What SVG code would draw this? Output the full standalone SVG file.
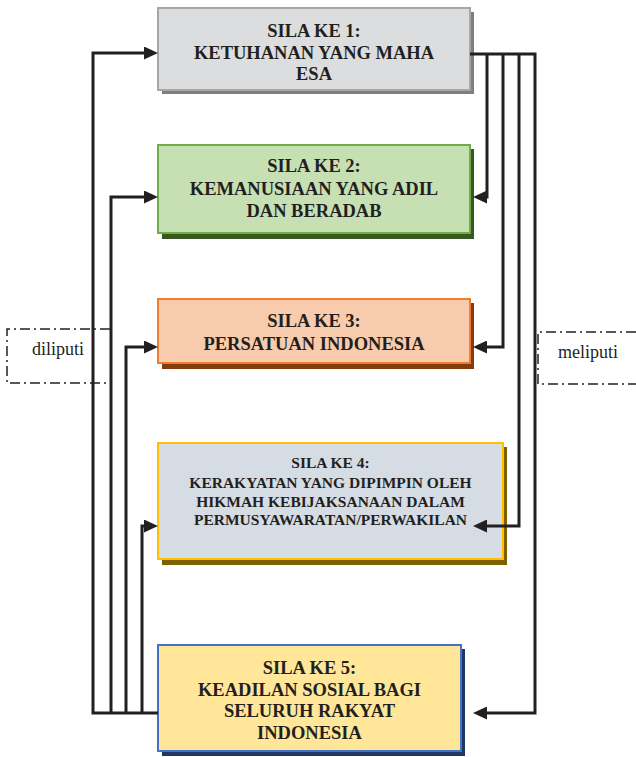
<svg xmlns="http://www.w3.org/2000/svg" width="636" height="757" viewBox="0 0 636 757">
<style>
.t{font-family:"Liberation Serif","Times New Roman",serif;font-weight:bold;font-size:18.5px;fill:#231f20;text-anchor:middle}
.t4{font-size:15.5px}
.lbl{font-family:"Liberation Serif","Times New Roman",serif;font-size:18px;fill:#231f20;text-anchor:middle}
.c{fill:none;stroke:#231f20;stroke-width:3;stroke-linejoin:miter}
.d{fill:none;stroke:#231f20;stroke-width:1.5;stroke-dasharray:10 4 2 4}
</style>
<defs>
<marker id="ah" markerWidth="14" markerHeight="13" refX="2" refY="6.5" orient="auto" markerUnits="userSpaceOnUse">
<path d="M0,0 L14,6.5 L0,13 z" fill="#231f20"/>
</marker>
</defs>
<g id="dash-left">
<path class="d" d="M110,329 H7 V383 H110"/>
<text class="lbl" x="58" y="355">diliputi</text>
</g>
<g id="dash-right">
<path class="d" d="M636,332 H538 V384 H636"/>
<text class="lbl" x="588" y="358">meliputi</text>
</g>
<g id="sila1">
<rect x="162" y="12" width="312" height="82" fill="#7f7f7f"/>
<rect x="158" y="8" width="312" height="82" fill="#dcdddf" stroke="#a6a6a6" stroke-width="2"/>
<text class="t" x="314" y="37">SILA KE 1:</text>
<text class="t" x="314" y="59">KETUHANAN YANG MAHA</text>
<text class="t" x="314" y="80">ESA</text>
</g>
<g id="sila2">
<rect x="162" y="149" width="312" height="90" fill="#385723"/>
<rect x="158" y="145" width="312" height="88" fill="#c6e0b4" stroke="#70ad47" stroke-width="2"/>
<text class="t" x="314" y="172">SILA KE 2:</text>
<text class="t" x="314" y="195">KEMANUSIAAN YANG ADIL</text>
<text class="t" x="314" y="217">DAN BERADAB</text>
</g>
<g id="sila3">
<rect x="162" y="303" width="312" height="66" fill="#843c0c"/>
<rect x="158" y="299" width="312" height="64" fill="#f8cbad" stroke="#ed7d31" stroke-width="2"/>
<text class="t" x="314" y="327">SILA KE 3:</text>
<text class="t" x="314" y="350">PERSATUAN INDONESIA</text>
</g>
<g id="sila4">
<rect x="162" y="447" width="345" height="118" fill="#7f6000"/>
<rect x="158" y="443" width="345" height="116" fill="#d6dce4" stroke="#ffc000" stroke-width="2"/>
<text class="t t4" x="330.5" y="468">SILA KE 4:</text>
<text class="t t4" x="330.5" y="488">KERAKYATAN YANG DIPIMPIN OLEH</text>
<text class="t t4" x="330.5" y="507">HIKMAH KEBIJAKSANAAN DALAM</text>
<text class="t t4" x="330.5" y="525">PERMUSYAWARATAN/PERWAKILAN</text>
</g>
<g id="sila5">
<rect x="162" y="649" width="303" height="107" fill="#1f3864"/>
<rect x="158" y="645" width="303" height="106" fill="#ffe699" stroke="#4472c4" stroke-width="2"/>
<text class="t" x="309.5" y="674">SILA KE 5:</text>
<text class="t" x="309.5" y="696">KEADILAN SOSIAL BAGI</text>
<text class="t" x="309.5" y="717">SELURUH RAKYAT</text>
<text class="t" x="309.5" y="739">INDONESIA</text>
</g>
<g id="connectors">
<path class="c" d="M158,713 H93 V53 H146" marker-end="url(#ah)"/>
<path class="c" d="M111,713 V197 H146" marker-end="url(#ah)"/>
<path class="c" d="M126,713 V347 H146" marker-end="url(#ah)"/>
<path class="c" d="M142,713 V526 H146" marker-end="url(#ah)"/>
<path class="c" d="M470,54 H535 V713 H485" marker-end="url(#ah)" stroke-width="3.5"/>
<path class="c" d="M487,54 V197 H485" marker-end="url(#ah)"/>
<path class="c" d="M503,54 V347 H485" marker-end="url(#ah)"/>
<path class="c" d="M519,54 V526 H485" marker-end="url(#ah)"/>
</g>
</svg>
